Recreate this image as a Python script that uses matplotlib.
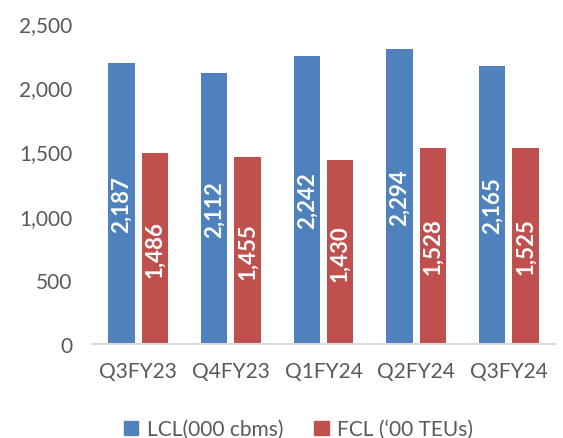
import matplotlib
matplotlib.use("Agg")
import matplotlib.pyplot as plt
import numpy as np
from matplotlib.patches import Patch

categories = ["Q3FY23", "Q4FY23", "Q1FY24", "Q2FY24", "Q3FY24"]
lcl = [2187, 2112, 2242, 2294, 2165]
fcl = [1486, 1455, 1430, 1528, 1525]
series_names = ["LCL(000 cbms)", "FCL (\u201800 TEUs)"]
yticks = [0, 500, 1000, 1500, 2000, 2500]

BLUE = "#4F81BD"
RED = "#C0504D"
TXT = "#595959"
FONT = "Lato"

fig = plt.figure(figsize=(5.63, 4.39), dpi=100)
ax = fig.add_axes([0.1634, 0.2141, 0.8224, 0.7312])

x = np.arange(len(categories))
w = 0.285
off = 0.18
b1 = ax.bar(x - off, lcl, w, color=BLUE)
b2 = ax.bar(x + off, fcl, w, color=RED)

for bars, vals in ((b1, lcl), (b2, fcl)):
    for r, v in zip(bars, vals):
        ax.text(r.get_x() + r.get_width() / 2, v / 2, f"{v:,}", rotation=90,
                ha="center", va="center", color="white", fontweight="bold",
                fontsize=16, family=FONT)

ax.set_xlim(-0.5, len(categories) - 0.5)
ax.set_ylim(0, 2500)
ax.set_yticks(yticks)
ax.set_yticklabels([f"{t:,}" for t in yticks], fontsize=15, color=TXT, family=FONT)
ax.set_xticks(x)
ax.set_xticklabels(categories, fontsize=15, color=TXT, family=FONT)
ax.tick_params(axis="both", length=0)
ax.tick_params(axis="y", pad=14)
ax.tick_params(axis="x", pad=12)
for s in ("top", "right", "left"):
    ax.spines[s].set_visible(False)
ax.spines["bottom"].set_color("#D9D9D9")
ax.spines["bottom"].set_linewidth(1.5)

handles = [Patch(color=BLUE), Patch(color=RED)]
fig.legend(handles, series_names, loc="center", bbox_to_anchor=(0.53, 0.02),
           ncol=2, frameon=False, handlelength=0.7, handleheight=0.7,
           handletextpad=0.4, columnspacing=1.5,
           prop={"family": FONT, "size": 15}, labelcolor=TXT)

fig.savefig("out.png", dpi=100)
